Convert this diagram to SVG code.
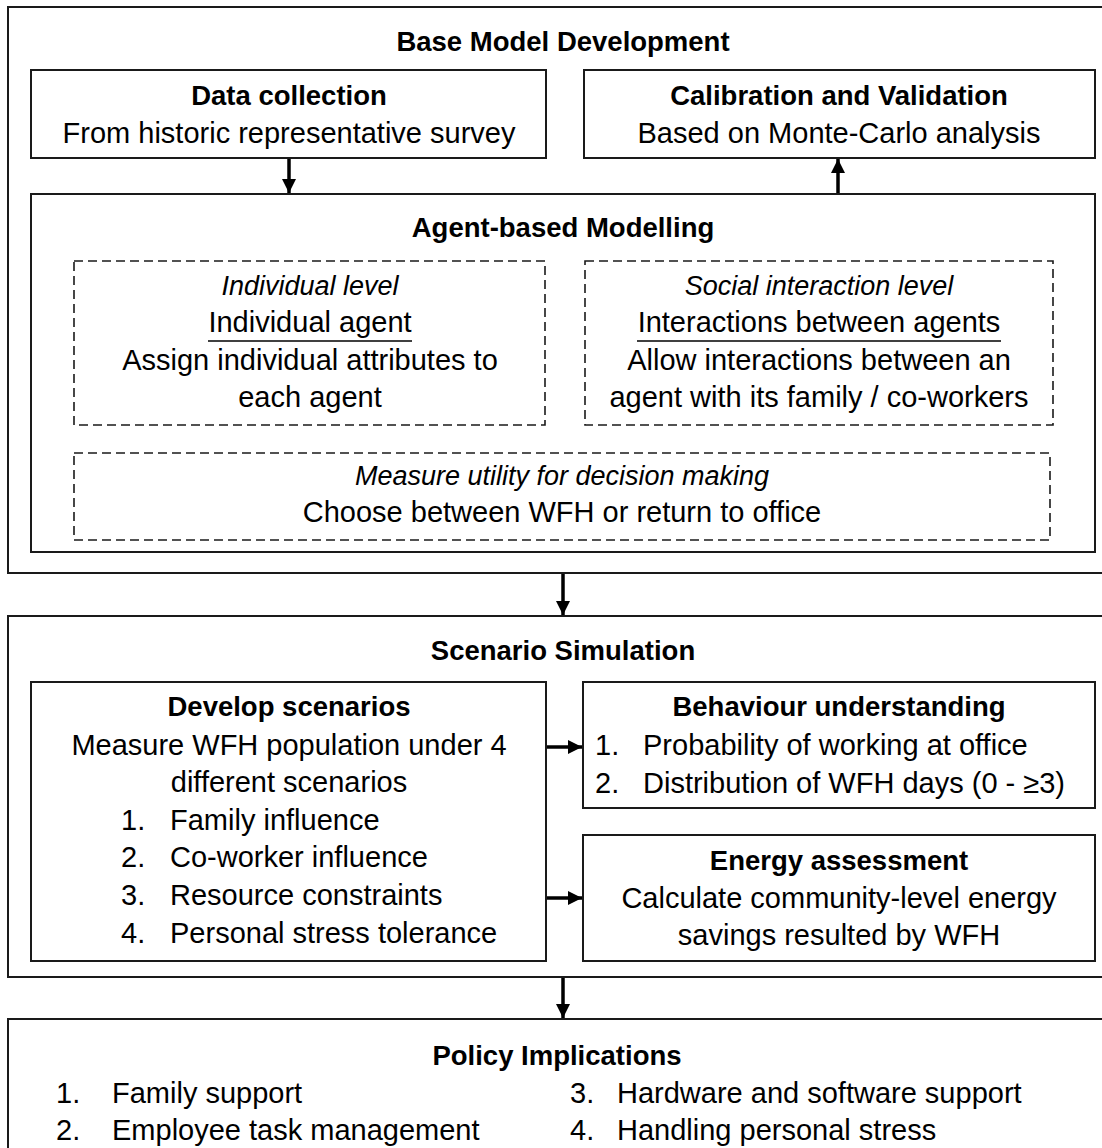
<svg xmlns="http://www.w3.org/2000/svg" width="1102" height="1148" viewBox="0 0 1102 1148">
  <style>
    .box { fill: #ffffff; stroke: #1a1a1a; stroke-width: 2; }
    .dash { fill: none; stroke: #1a1a1a; stroke-width: 1.6; stroke-dasharray: 9 5; }
    .t { font-family: "Liberation Sans", Arial, sans-serif; font-size: 29px; fill: #000; }
    .b { font-family: "Liberation Sans", Arial, sans-serif; font-size: 27.5px; font-weight: bold; fill: #000; }
    .i { font-family: "Liberation Sans", Arial, sans-serif; font-size: 27px; font-style: italic; fill: #000; }
    .c { text-anchor: middle; }
    .conn { stroke: #000; stroke-width: 3.5; fill: none; }
    .ul { stroke: #000; stroke-width: 1.4; }
  </style>
  <defs>
    <marker id="head" viewBox="0 0 10 10" refX="10" refY="5" markerWidth="4" markerHeight="4" markerUnits="strokeWidth" orient="auto">
      <path d="M0,0 L10,5 L0,10 Z" fill="#000"/>
    </marker>
  </defs>

  <rect width="1102" height="1148" fill="#ffffff"/>

  <!-- Stage 1: base model development -->
  <g id="base-model">
    <rect class="box" x="8" y="7" width="1112" height="566"/>
    <text class="b c" x="563" y="51">Base Model Development</text>
  </g>

  <g id="data-collection">
    <rect class="box" x="31" y="70" width="515" height="88"/>
    <text class="b c" x="289" y="105">Data collection</text>
    <text class="t c" x="289" y="143">From historic representative survey</text>
  </g>

  <g id="calibration">
    <rect class="box" x="584" y="70" width="511" height="88"/>
    <text class="b c" x="839" y="105">Calibration and Validation</text>
    <text class="t c" x="839" y="143">Based on Monte-Carlo analysis</text>
  </g>

  <g id="abm">
    <rect class="box" x="31" y="194" width="1064" height="358"/>
    <text class="b c" x="563" y="237">Agent-based Modelling</text>
  </g>

  <g id="individual-level">
    <rect class="dash" x="74" y="261" width="471" height="164"/>
    <text class="i c" x="310" y="295">Individual level</text>
    <text class="t c" x="310" y="332">Individual agent</text>
    <line class="ul" x1="208" y1="341" x2="412" y2="341"/>
    <text class="t c" x="310" y="370">Assign individual attributes to</text>
    <text class="t c" x="310" y="407">each agent</text>
  </g>

  <g id="social-level">
    <rect class="dash" x="585" y="261" width="468" height="164"/>
    <text class="i c" x="819" y="295">Social interaction level</text>
    <text class="t c" x="819" y="332">Interactions between agents</text>
    <line class="ul" x1="637" y1="341" x2="1001" y2="341"/>
    <text class="t c" x="819" y="370">Allow interactions between an</text>
    <text class="t c" x="819" y="407">agent with its family / co-workers</text>
  </g>

  <g id="decision-utility">
    <rect class="dash" x="74" y="453" width="976" height="87"/>
    <text class="i c" x="562" y="485">Measure utility for decision making</text>
    <text class="t c" x="562" y="522">Choose between WFH or return to office</text>
  </g>

  <!-- Stage 2: scenario simulation -->
  <g id="scenario-simulation">
    <rect class="box" x="8" y="616" width="1112" height="361"/>
    <text class="b c" x="563" y="660">Scenario Simulation</text>
  </g>

  <g id="develop-scenarios">
    <rect class="box" x="31" y="682" width="515" height="279"/>
    <text class="b c" x="289" y="716">Develop scenarios</text>
    <text class="t c" x="289" y="755">Measure WFH population under 4</text>
    <text class="t c" x="289" y="792">different scenarios</text>
    <text class="t" x="121" y="830">1.</text><text class="t" x="170" y="830">Family influence</text>
    <text class="t" x="121" y="867">2.</text><text class="t" x="170" y="867">Co-worker influence</text>
    <text class="t" x="121" y="905">3.</text><text class="t" x="170" y="905">Resource constraints</text>
    <text class="t" x="121" y="943">4.</text><text class="t" x="170" y="943">Personal stress tolerance</text>
  </g>

  <g id="behaviour">
    <rect class="box" x="583" y="682" width="512" height="126"/>
    <text class="b c" x="839" y="716">Behaviour understanding</text>
    <text class="t" x="595" y="755">1.</text><text class="t" x="643" y="755">Probability of working at office</text>
    <text class="t" x="595" y="793">2.</text><text class="t" x="643" y="793">Distribution of WFH days (0 - ≥3)</text>
  </g>

  <g id="energy">
    <rect class="box" x="583" y="835" width="512" height="126"/>
    <text class="b c" x="839" y="870">Energy assessment</text>
    <text class="t c" x="839" y="908">Calculate community-level energy</text>
    <text class="t c" x="839" y="945">savings resulted by WFH</text>
  </g>

  <!-- Stage 3: policy implications -->
  <g id="policy">
    <rect class="box" x="8" y="1019" width="1112" height="140"/>
    <text class="b c" x="557" y="1065">Policy Implications</text>
    <text class="t" x="56" y="1103">1.</text><text class="t" x="112" y="1103">Family support</text>
    <text class="t" x="56" y="1140">2.</text><text class="t" x="112" y="1140">Employee task management</text>
    <text class="t" x="570" y="1103">3.</text><text class="t" x="617" y="1103">Hardware and software support</text>
    <text class="t" x="570" y="1140">4.</text><text class="t" x="617" y="1140">Handling personal stress</text>
  </g>

  <g id="connectors">
    <line class="conn" x1="289" y1="159" x2="289" y2="193" marker-end="url(#head)"/>
    <line class="conn" x1="838" y1="193" x2="838" y2="159" marker-end="url(#head)"/>
    <line class="conn" x1="563" y1="574" x2="563" y2="615" marker-end="url(#head)"/>
    <line class="conn" x1="547" y1="747" x2="582" y2="747" marker-end="url(#head)"/>
    <line class="conn" x1="547" y1="898" x2="582" y2="898" marker-end="url(#head)"/>
    <line class="conn" x1="563" y1="978" x2="563" y2="1018" marker-end="url(#head)"/>
  </g>
</svg>
